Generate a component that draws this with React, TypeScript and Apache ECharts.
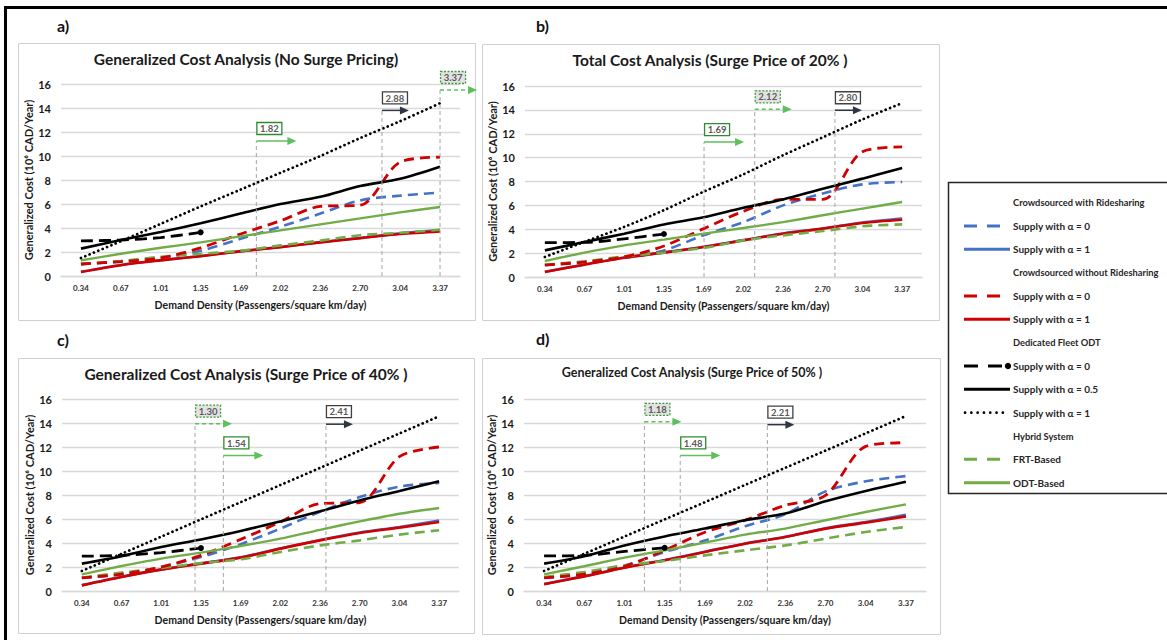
import React, { useEffect, useRef } from 'react';
import * as echarts from 'echarts';

const FONT = 'Lato, "Open Sans", "DejaVu Sans", sans-serif';

// ---------- data ----------
const CATEGORIES = ['0.34', '0.67', '1.01', '1.35', '1.69', '2.02', '2.36', '2.70', '3.04', '3.37'];
const Y_TICKS_MAX = 16;

// Panel a) No surge pricing
const A_RIDE_A0 = [1.0, 1.2, 1.5, 2.1, 3.1, 4.1, 5.2, 6.3, 6.7, 6.95];
const A_RIDE_A1 = [0.35, 0.92, 1.32, 1.67, 2.07, 2.42, 2.82, 3.18, 3.55, 3.82];
const A_NORIDE_A0 = [1.0, 1.2, 1.5, 2.35, 3.5, 4.6, 5.8, 5.9, 9.5, 9.9];
const A_NORIDE_A1 = [0.33, 0.9, 1.3, 1.65, 2.05, 2.4, 2.8, 3.15, 3.5, 3.72];
const A_FLEET_A0 = [2.92, 3.0, 3.2, 3.64];
const A_FLEET_A05 = [2.28, 3.0, 3.67, 4.4, 5.2, 6.0, 6.6, 7.5, 8.1, 9.1];
const A_FLEET_A1 = [1.5, 2.9, 4.35, 5.8, 7.2, 8.6, 10.0, 11.5, 12.9, 14.4];
const A_FRT = [0.97, 1.25, 1.6, 1.85, 2.1, 2.55, 2.95, 3.4, 3.6, 3.85];
const A_ODT = [1.3, 1.85, 2.35, 2.8, 3.3, 3.8, 4.3, 4.8, 5.3, 5.75];
const A_THRESHOLDS = [1.82, 2.88, 3.37];
const A_THRESHOLD_TOPS = [11.25, 13.8, 15.5];
const A_THRESHOLD_KINDS = ['odt', 'fleet', 'frt'];

// Panel b) Surge price 20%
const B_RIDE_A0 = [1.0, 1.25, 1.6, 2.23, 3.5, 4.6, 6.0, 7.0, 7.76, 7.96];
const B_RIDE_A1 = [0.44, 1.05, 1.64, 2.06, 2.53, 3.09, 3.65, 4.07, 4.57, 4.9];
const B_NORIDE_A0 = [1.0, 1.25, 1.68, 2.6, 4.05, 5.5, 6.5, 6.5, 10.5, 10.9];
const B_NORIDE_A1 = [0.42, 1.03, 1.62, 2.04, 2.51, 3.07, 3.63, 4.05, 4.53, 4.8];
const B_FLEET_A0 = [2.88, 2.9, 3.2, 3.6];
const B_FLEET_A05 = [2.23, 2.93, 3.63, 4.4, 5.0, 5.8, 6.5, 7.4, 8.24, 9.13];
const B_FLEET_A1 = [1.68, 2.95, 4.2, 5.6, 7.15, 8.6, 10.2, 11.7, 13.2, 14.57];
const B_FRT = [1.03, 1.31, 1.73, 2.04, 2.43, 3.07, 3.49, 3.85, 4.25, 4.41];
const B_ODT = [1.34, 2.04, 2.65, 3.13, 3.63, 4.1, 4.6, 5.17, 5.73, 6.28];
const B_THRESHOLDS = [1.69, 2.12, 2.8];
const B_THRESHOLD_TOPS = [11.3, 14.05, 13.97];
const B_THRESHOLD_KINDS = ['odt', 'frt', 'fleet'];

// Panel c) Surge price 40%
const C_RIDE_A0 = [1.1, 1.4, 2.0, 2.83, 3.9, 5.2, 6.6, 7.83, 8.7, 9.0];
const C_RIDE_A1 = [0.49, 1.19, 1.8, 2.3, 2.8, 3.55, 4.25, 4.87, 5.34, 5.88];
const C_NORIDE_A0 = [1.1, 1.4, 2.0, 2.97, 4.3, 5.75, 7.28, 7.36, 11.2, 12.0];
const C_NORIDE_A1 = [0.47, 1.17, 1.78, 2.28, 2.78, 3.53, 4.22, 4.83, 5.28, 5.75];
const C_FLEET_A0 = [2.9, 2.97, 3.2, 3.58];
const C_FLEET_A05 = [2.28, 2.9, 3.67, 4.3, 5.0, 5.8, 6.64, 7.55, 8.33, 9.14];
const C_FLEET_A1 = [1.67, 3.1, 4.53, 5.97, 7.4, 8.83, 10.26, 11.7, 13.13, 14.56];
const C_FRT = [1.11, 1.53, 1.92, 2.33, 2.64, 3.25, 3.8, 4.22, 4.7, 5.06];
const C_ODT = [1.39, 2.08, 2.7, 3.2, 3.75, 4.36, 5.1, 5.8, 6.44, 6.92];
const C_THRESHOLDS = [1.3, 1.54, 2.41];
const C_THRESHOLD_TOPS = [13.94, 11.3, 13.9];
const C_THRESHOLD_KINDS = ['frt', 'odt', 'fleet'];

// Panel d) Surge price 50%
const D_RIDE_A0 = [1.1, 1.4, 2.1, 3.25, 4.2, 5.4, 6.4, 8.3, 9.14, 9.58];
const D_RIDE_A1 = [0.58, 1.24, 1.96, 2.58, 3.27, 3.96, 4.52, 5.23, 5.75, 6.35];
const D_NORIDE_A0 = [1.1, 1.4, 2.05, 3.39, 4.9, 5.9, 7.14, 7.97, 12.05, 12.36];
const D_NORIDE_A1 = [0.56, 1.22, 1.94, 2.56, 3.25, 3.94, 4.5, 5.2, 5.7, 6.22];
const D_FLEET_A0 = [2.92, 2.97, 3.3, 3.6];
const D_FLEET_A05 = [2.28, 2.9, 3.8, 4.55, 5.2, 5.9, 6.45, 7.47, 8.33, 9.1];
const D_FLEET_A1 = [1.67, 3.1, 4.54, 5.97, 7.4, 8.84, 10.27, 11.7, 13.14, 14.58];
const D_FRT = [1.17, 1.58, 2.14, 2.5, 2.97, 3.39, 3.8, 4.36, 4.92, 5.33];
const D_ODT = [1.39, 2.06, 2.78, 3.39, 4.03, 4.7, 5.2, 5.9, 6.58, 7.22];
const D_THRESHOLDS = [1.18, 1.48, 2.21];
const D_THRESHOLD_TOPS = [14.1, 11.3, 13.86];
const D_THRESHOLD_KINDS = ['frt', 'odt', 'fleet'];

const TITLES = [
  'Generalized Cost Analysis (No Surge Pricing)',
  'Total Cost Analysis (Surge Price of 20% )',
  'Generalized Cost Analysis (Surge Price of 40% )',
  'Generalized Cost Analysis (Surge Price of 50% )',
];
const PANEL_LETTERS = ['a)', 'b)', 'c)', 'd)'];
const X_NAME = 'Demand Density (Passengers/square km/day)';
const Y_NAME = 'Generalized Cost (10\u2076 CAD/Year)';

const LEGEND_ROWS = [
  { text: 'Crowdsourced with Ridesharing', key: 'header' },
  { text: 'Supply with \u03b1 = 0', key: 'rideA0' },
  { text: 'Supply with \u03b1 = 1', key: 'rideA1' },
  { text: 'Crowdsourced without Ridesharing', key: 'header' },
  { text: 'Supply with \u03b1 = 0', key: 'norideA0' },
  { text: 'Supply with \u03b1 = 1', key: 'norideA1' },
  { text: 'Dedicated Fleet ODT', key: 'header' },
  { text: 'Supply with \u03b1 = 0', key: 'fleetA0' },
  { text: 'Supply with \u03b1 = 0.5', key: 'fleetA05' },
  { text: 'Supply with \u03b1 = 1', key: 'fleetA1' },
  { text: 'Hybrid System', key: 'header' },
  { text: 'FRT-Based', key: 'frt' },
  { text: 'ODT-Based', key: 'odt' },
];

// ---------- styles / layout ----------
const BLUE = '#4472C4';
const RED = '#D00000';
const BLACK = '#000000';
const GREEN = '#70AD47';
const GRID_LINE = '#D9D9D9';

const STYLE: Record<string, { color: string; dash: any; width: number; cap?: string }> = {
  rideA0: { color: BLUE, dash: [10, 6], width: 2.6 },
  rideA1: { color: BLUE, dash: 'solid', width: 2.6 },
  norideA0: { color: RED, dash: [10, 6], width: 2.8 },
  norideA1: { color: RED, dash: 'solid', width: 2.6 },
  fleetA0: { color: BLACK, dash: [12, 6], width: 2.8 },
  fleetA05: { color: BLACK, dash: 'solid', width: 2.6 },
  fleetA1: { color: BLACK, dash: [0.1, 4.6], width: 2.7, cap: 'round' },
  frt: { color: GREEN, dash: [10, 6], width: 2.6 },
  odt: { color: GREEN, dash: 'solid', width: 2.4 },
};

const KIND_STYLE: Record<string, any> = {
  odt: { arrow: '#5CC05C', arrowDash: null, len: 40, border: '#2E8B2E', boxDash: null, fill: '#FFFFFF' },
  frt: { arrow: '#5CC05C', arrowDash: [4, 3], len: 37, border: '#3A9A3A', boxDash: [2, 1.5], fill: '#E2E2E2' },
  fleet: { arrow: '#2F3640', arrowDash: null, len: 27, border: '#404040', boxDash: null, fill: '#FFFFFF' },
};

const PANELS = [
  {
    grid: { left: 61, top: 84, width: 399, height: 192 }, box: [18, 43, 457, 277],
    title: [246, 62, 15.5], letter: [57, 25],
    d: { rideA0: A_RIDE_A0, rideA1: A_RIDE_A1, norideA1: A_NORIDE_A1, frt: A_FRT, norideA0: A_NORIDE_A0, odt: A_ODT, fleetA0: A_FLEET_A0, fleetA05: A_FLEET_A05, fleetA1: A_FLEET_A1 },
    th: A_THRESHOLDS, tops: A_THRESHOLD_TOPS, kinds: A_THRESHOLD_KINDS,
  },
  {
    grid: { left: 525, top: 86, width: 397, height: 191 }, box: [482, 44, 457, 276],
    title: [710, 63, 15.5], letter: [536, 25],
    d: { rideA0: B_RIDE_A0, rideA1: B_RIDE_A1, norideA1: B_NORIDE_A1, frt: B_FRT, norideA0: B_NORIDE_A0, odt: B_ODT, fleetA0: B_FLEET_A0, fleetA05: B_FLEET_A05, fleetA1: B_FLEET_A1 },
    th: B_THRESHOLDS, tops: B_THRESHOLD_TOPS, kinds: B_THRESHOLD_KINDS,
  },
  {
    grid: { left: 62, top: 399, width: 397, height: 192 }, box: [18, 358, 456, 275],
    title: [246, 377, 15.5], letter: [57, 339],
    d: { rideA0: C_RIDE_A0, rideA1: C_RIDE_A1, norideA1: C_NORIDE_A1, frt: C_FRT, norideA0: C_NORIDE_A0, odt: C_ODT, fleetA0: C_FLEET_A0, fleetA05: C_FLEET_A05, fleetA1: C_FLEET_A1 },
    th: C_THRESHOLDS, tops: C_THRESHOLD_TOPS, kinds: C_THRESHOLD_KINDS,
  },
  {
    grid: { left: 524, top: 399, width: 402, height: 192 }, box: [482, 358, 458, 276],
    title: [692, 374, 12.5], letter: [536, 338],
    d: { rideA0: D_RIDE_A0, rideA1: D_RIDE_A1, norideA1: D_NORIDE_A1, frt: D_FRT, norideA0: D_NORIDE_A0, odt: D_ODT, fleetA0: D_FLEET_A0, fleetA05: D_FLEET_A05, fleetA1: D_FLEET_A1 },
    th: D_THRESHOLDS, tops: D_THRESHOLD_TOPS, kinds: D_THRESHOLD_KINDS,
  },
];

const STEP = 0.337;
const X_MIN = 0.34 - STEP / 2;
const X_MAX = 3.37 + STEP / 2;

function buildOption() {
  const grid: any[] = [];
  const xAxis: any[] = [];
  const yAxis: any[] = [];
  const series: any[] = [];
  const title: any[] = [];
  const graphic: any[] = [];

  // outer frame
  graphic.push({ type: 'rect', z: 100, shape: { x: 5.5, y: 7.5, width: 1175, height: 650 }, style: { fill: 'none', stroke: '#000', lineWidth: 3 } });

  PANELS.forEach((p, gi) => {
    grid.push({ ...p.grid, containLabel: false });
    graphic.push({ type: 'rect', z: -1, shape: { x: p.box[0] + 0.5, y: p.box[1] + 0.5, width: p.box[2], height: p.box[3] }, style: { fill: '#fff', stroke: '#D0D0D0', lineWidth: 1 } });
    graphic.push({ type: 'text', z: 10, x: p.letter[0], y: p.letter[1], style: { text: PANEL_LETTERS[gi], font: `bold 16px ${FONT}`, fill: '#111', verticalAlign: 'middle' } });
    title.push({
      text: TITLES[gi], left: p.title[0], top: p.title[1] - p.title[2] * 0.68, textAlign: 'center', padding: 0,
      textStyle: { fontFamily: FONT, fontSize: p.title[2], fontWeight: 'bold', color: '#1A1A1A' },
    });
    xAxis.push({
      type: 'category', gridIndex: gi, data: CATEGORIES, boundaryGap: true,
      axisLine: { lineStyle: { color: GRID_LINE, width: 1.4 } }, axisTick: { show: false },
      axisLabel: { interval: 0, fontSize: 8, fontWeight: 'bold', color: '#333', margin: 8, fontFamily: FONT },
      name: X_NAME, nameLocation: 'middle', nameGap: 23,
      nameTextStyle: { fontSize: 10.5, fontWeight: 'bold', color: '#1A1A1A', fontFamily: FONT },
    });
    xAxis.push({ type: 'value', gridIndex: gi, min: X_MIN, max: X_MAX, show: false });
    yAxis.push({
      type: 'value', gridIndex: gi, min: 0, max: Y_TICKS_MAX, interval: 2,
      axisLine: { show: false }, axisTick: { show: false },
      splitLine: { lineStyle: { color: GRID_LINE, width: 1.3 } },
      axisLabel: { fontSize: 11, fontWeight: 'bold', color: '#1A1A1A', margin: 10, fontFamily: FONT },
      name: Y_NAME, nameLocation: 'middle', nameGap: 23,
      nameTextStyle: { fontSize: 11, fontWeight: 'bold', color: '#1A1A1A', fontFamily: FONT },
    });

    Object.keys(p.d).forEach((key) => {
      const st = STYLE[key];
      const vals: number[] = (p.d as any)[key];
      const isFleet0 = key === 'fleetA0';
      series.push({
        type: 'line', name: `${TITLES[gi]} - ${key}`, xAxisIndex: gi * 2, yAxisIndex: gi,
        data: isFleet0 ? vals.map((v, i) => (i === vals.length - 1 ? { value: v, symbol: 'circle', symbolSize: 6, itemStyle: { color: '#000' } } : v)) : vals,
        smooth: 0.3, symbol: 'none', showSymbol: isFleet0,
        lineStyle: { color: st.color, width: st.width, type: st.dash, cap: st.cap || 'butt' },
        emphasis: { disabled: true }, silent: true,
      });
    });

    const kinds = p.kinds;
    series.push({
      type: 'custom', name: `thresholds-${gi}`, xAxisIndex: gi * 2 + 1, yAxisIndex: gi, clip: false, z: 5, silent: true,
      data: p.th.map((x, i) => [x, p.tops[i]]),
      encode: { x: 0, y: 1 },
      renderItem: (params: any, api: any) => {
        const x = api.value(0);
        const top = api.value(1);
        const ks = KIND_STYLE[kinds[params.dataIndex]];
        const b = api.coord([x, 0]);
        const t = api.coord([x, top]);
        const ax = t[0], ay = t[1];
        return {
          type: 'group',
          children: [
            { type: 'line', shape: { x1: b[0], y1: b[1], x2: ax, y2: ay }, style: { stroke: '#A6A6A6', lineWidth: 1, lineDash: [4, 3] } },
            { type: 'line', shape: { x1: ax, y1: ay, x2: ax + ks.len - 8, y2: ay }, style: { stroke: ks.arrow, lineWidth: 1.5, lineDash: ks.arrowDash } },
            { type: 'polygon', shape: { points: [[ax + ks.len - 9, ay - 4], [ax + ks.len, ay], [ax + ks.len - 9, ay + 4]] }, style: { fill: ks.arrow } },
            { type: 'rect', shape: { x: ax + 0.5, y: ay - 18.5, width: 25, height: 12 }, style: { fill: ks.fill, stroke: ks.border, lineWidth: 1.3, lineDash: ks.boxDash } },
            { type: 'text', x: ax + 13, y: ay - 12.3, style: { text: x.toFixed(2), align: 'center', verticalAlign: 'middle', font: `bold 9.5px ${FONT}`, fill: '#595959' } },
          ],
        };
      },
    });
  });

  // legend box
  const LX = 948, LY = 182;
  graphic.push({ type: 'rect', z: 10, shape: { x: LX + 0.5, y: LY + 0.5, width: 240, height: 311 }, style: { fill: '#fff', stroke: '#262626', lineWidth: 1.5 } });
  LEGEND_ROWS.forEach((row, i) => {
    const y = LY + 20.7 + i * 23.33;
    const isHeader = row.key === 'header';
    graphic.push({ type: 'text', z: 11, x: 1013, y, style: { text: row.text, font: `bold ${isHeader ? 9.3 : 10}px ${FONT}`, fill: '#262626', verticalAlign: 'middle' } });
    if (isHeader) return;
    const st = STYLE[row.key];
    if (row.key === 'fleetA0') {
      graphic.push({ type: 'line', z: 11, shape: { x1: 964, y1: y, x2: 1005, y2: y }, style: { stroke: st.color, lineWidth: 3, lineDash: [14, 10] } });
      graphic.push({ type: 'circle', z: 11, shape: { cx: 1008, cy: y, r: 3.2 }, style: { fill: '#000' } });
    } else if (row.key === 'fleetA1') {
      graphic.push({ type: 'line', z: 11, shape: { x1: 965, y1: y, x2: 1009, y2: y }, style: { stroke: st.color, lineWidth: 2.6, lineDash: [0.1, 6.2], lineCap: 'round' } });
    } else if (st.dash === 'solid') {
      graphic.push({ type: 'line', z: 11, shape: { x1: 964, y1: y, x2: 1010, y2: y }, style: { stroke: st.color, lineWidth: 3 } });
    } else {
      graphic.push({ type: 'line', z: 11, shape: { x1: 964, y1: y, x2: 1001, y2: y }, style: { stroke: st.color, lineWidth: 3, lineDash: [13, 10] } });
    }
  });

  return {
    animation: false,
    backgroundColor: '#ffffff',
    textStyle: { fontFamily: FONT },
    title, grid, xAxis, yAxis, series, graphic,
  };
}

export default function App() {
  const ref = useRef<HTMLDivElement>(null);
  useEffect(() => {
    const chart = echarts.init(ref.current!, null, { renderer: 'svg' });
    chart.setOption(buildOption() as any);
    return () => chart.dispose();
  }, []);
  return <div ref={ref} style={{ position: 'fixed', left: 0, top: 0, width: 1167, height: 640, background: '#fff' }} />;
}
